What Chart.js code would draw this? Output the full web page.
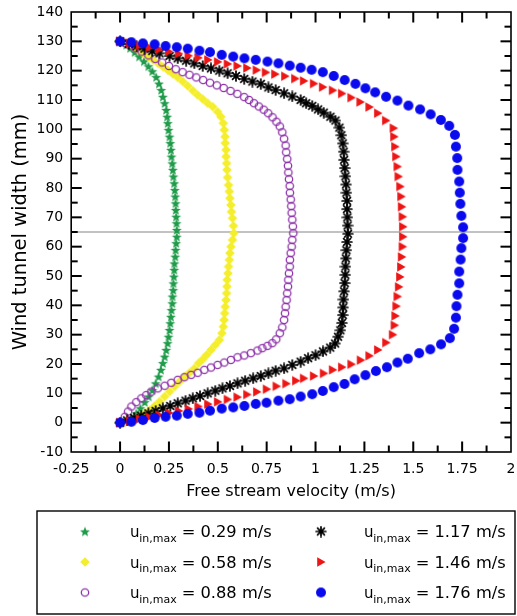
<!DOCTYPE html>
<html>
<head>
<meta charset="utf-8">
<script src="https://cdn.jsdelivr.net/npm/chart.js@4.4.1/dist/chart.umd.min.js"></script>
<style>
html,body{margin:0;padding:0;background:#fff;}
#wrap{width:517px;height:616px;}
</style>
</head>
<body>
<div id="wrap"><canvas id="c" width="517" height="616"></canvas></div>
<script>
// ---- tick labels ----
const xTickLabels = ['-0.25','0','0.25','0.5','0.75','1','1.25','1.5','1.75','2'];
const yTickLabels = ['-10','0','10','20','30','40','50','60','70','80','90','100','110','120','130','140'];

// ---- series names (u_in,max in m/s) ----
const seriesValues = ['0.29','0.58','0.88','1.17','1.46','1.76'];

// ---- centre line (mm) ----
const centreLineY = 65;

// ---- data: [velocity (m/s), width position (mm)] ----
const s029 = [[0,0],[0.03,0.5],[0.058,1.5],[0.083,3.2],[0.104,4.9],[0.126,7.0],[0.146,8.9],[0.165,11.1],[0.182,13.4],[0.197,15.7],[0.209,18.0],[0.219,20.3],[0.228,22.5],[0.236,24.8],[0.243,27.1],[0.248,29.3],[0.253,31.6],[0.257,33.9],[0.26,36.1],[0.263,38.4],[0.267,40.7],[0.268,43.0],[0.272,45.2],[0.273,47.5],[0.275,49.8],[0.277,52.1],[0.278,54.3],[0.282,56.6],[0.284,58.9],[0.287,61.2],[0.29,63.4],[0.29,65.7],[0.289,68.0],[0.287,70.2],[0.285,72.5],[0.284,74.8],[0.282,77.1],[0.28,79.3],[0.277,81.6],[0.273,83.9],[0.27,86.2],[0.267,88.4],[0.263,90.7],[0.26,93.0],[0.257,95.3],[0.253,97.5],[0.248,99.8],[0.244,102.1],[0.241,104.3],[0.236,106.6],[0.228,108.9],[0.219,111.1],[0.211,113.4],[0.199,115.6],[0.185,117.8],[0.165,119.8],[0.145,121.5],[0.122,123.2],[0.098,124.8],[0.075,126.3],[0.052,127.7],[0.032,128.8],[0.015,129.6],[0,130]];

const s058 = [[0,0],[0.025,0.1],[0.05,0.4],[0.075,0.9],[0.1,2.0],[0.126,3.2],[0.151,4.3],[0.177,5.7],[0.202,7.2],[0.228,8.9],[0.253,10.6],[0.279,12.3],[0.304,14.0],[0.329,15.7],[0.355,17.0],[0.38,18.5],[0.402,20.3],[0.423,21.6],[0.443,23.1],[0.465,24.8],[0.487,26.5],[0.508,28.2],[0.521,30.5],[0.528,32.7],[0.532,35.0],[0.535,37.3],[0.538,39.5],[0.542,41.8],[0.545,44.1],[0.547,46.4],[0.548,48.7],[0.552,50.9],[0.555,53.2],[0.559,55.5],[0.562,57.8],[0.567,60.0],[0.575,62.3],[0.582,64.6],[0.58,67.1],[0.575,69.7],[0.57,71.9],[0.567,74.2],[0.562,76.5],[0.559,78.8],[0.555,81.0],[0.55,83.6],[0.547,86.2],[0.545,88.4],[0.542,90.7],[0.542,93.0],[0.538,95.3],[0.537,97.5],[0.533,99.8],[0.528,102.1],[0.516,104.3],[0.499,106.0],[0.474,107.7],[0.448,108.9],[0.423,110.3],[0.397,111.7],[0.372,113.2],[0.346,114.8],[0.321,116.3],[0.295,117.7],[0.27,118.9],[0.245,120.1],[0.22,121.3],[0.195,122.5],[0.17,123.6],[0.145,124.7],[0.12,125.8],[0.095,126.9],[0.07,128.0],[0.045,129.0],[0.022,129.6],[0,130]];

const s088 = [[0,0],[0.024,2.0],[0.041,3.8],[0.058,5.5],[0.083,7.0],[0.109,8.3],[0.134,9.4],[0.16,10.6],[0.193,11.7],[0.228,12.6],[0.262,13.6],[0.295,14.6],[0.329,15.5],[0.364,16.3],[0.397,17.0],[0.431,18.0],[0.465,18.8],[0.499,19.7],[0.533,20.5],[0.567,21.4],[0.601,22.3],[0.635,22.9],[0.669,23.7],[0.703,24.6],[0.728,25.4],[0.754,26.2],[0.779,27.1],[0.799,28.4],[0.817,30.5],[0.83,32.5],[0.839,35.0],[0.844,37.3],[0.847,39.5],[0.852,41.8],[0.855,44.1],[0.859,46.4],[0.861,48.7],[0.864,50.9],[0.868,53.2],[0.869,55.5],[0.873,57.8],[0.878,60.0],[0.881,62.3],[0.886,64.6],[0.884,66.9],[0.881,69.2],[0.878,71.5],[0.876,73.8],[0.873,76.1],[0.869,78.4],[0.868,80.7],[0.864,83.0],[0.861,85.3],[0.859,87.6],[0.855,89.9],[0.85,92.2],[0.847,94.5],[0.839,96.8],[0.83,99.0],[0.817,101.0],[0.8,102.6],[0.78,104.1],[0.758,105.5],[0.735,106.7],[0.71,107.8],[0.685,108.9],[0.66,110.0],[0.635,111.0],[0.6,112.1],[0.565,113.1],[0.53,114.1],[0.495,115.0],[0.46,115.9],[0.425,116.8],[0.39,117.7],[0.355,118.6],[0.32,119.5],[0.285,120.5],[0.25,121.6],[0.215,122.8],[0.18,124.0],[0.145,125.2],[0.11,126.5],[0.08,127.6],[0.05,128.6],[0.025,129.4],[0,130]];

const s117 = [[0,0],[0.036,0.8],[0.072,1.6],[0.108,2.4],[0.145,3.2],[0.182,4.0],[0.219,4.9],[0.257,5.7],[0.295,6.6],[0.335,7.5],[0.372,8.3],[0.409,9.1],[0.448,10.0],[0.487,10.9],[0.524,11.7],[0.562,12.5],[0.601,13.4],[0.64,14.3],[0.681,15.1],[0.72,15.9],[0.759,16.8],[0.796,17.7],[0.839,18.5],[0.881,19.7],[0.924,20.8],[0.962,22.0],[1.0,23.0],[1.038,24.3],[1.075,25.6],[1.1,27.0],[1.115,29.3],[1.127,31.5],[1.135,34.0],[1.139,36.7],[1.141,39.3],[1.143,42.0],[1.146,44.8],[1.149,47.6],[1.152,50.4],[1.153,53.2],[1.155,56.0],[1.158,58.8],[1.161,61.6],[1.166,64.4],[1.164,67.2],[1.163,70.0],[1.161,72.8],[1.161,75.6],[1.158,78.4],[1.156,81.2],[1.153,84.0],[1.149,86.8],[1.146,89.6],[1.144,92.4],[1.139,95.2],[1.132,98.0],[1.122,100.6],[1.102,103.0],[1.076,104.3],[1.042,105.7],[1.013,106.8],[0.983,108.0],[0.952,108.9],[0.924,110.0],[0.881,111.2],[0.839,112.3],[0.796,113.4],[0.759,114.3],[0.72,115.5],[0.677,116.3],[0.635,117.2],[0.593,118.2],[0.55,119.1],[0.508,120.0],[0.465,120.8],[0.423,121.6],[0.38,122.5],[0.338,123.4],[0.295,124.2],[0.253,125.0],[0.202,125.9],[0.165,126.7],[0.125,127.5],[0.085,128.3],[0.045,129.1],[0,130]];

const s146 = [[0,0],[0.05,0.6],[0.1,1.3],[0.15,1.9],[0.2,2.6],[0.25,3.3],[0.3,4.0],[0.35,4.7],[0.4,5.5],[0.45,6.3],[0.5,7.1],[0.55,7.9],[0.6,8.7],[0.65,9.6],[0.7,10.5],[0.75,11.4],[0.8,12.4],[0.85,13.3],[0.9,14.3],[0.94,15.1],[0.991,15.9],[1.042,16.8],[1.088,18.0],[1.135,18.9],[1.183,19.9],[1.231,21.3],[1.275,22.8],[1.319,24.8],[1.361,27.3],[1.395,30.0],[1.404,33.2],[1.408,36.4],[1.413,39.7],[1.419,43.0],[1.426,46.3],[1.432,49.7],[1.437,53.1],[1.441,56.5],[1.445,60.0],[1.447,63.4],[1.447,66.8],[1.445,70.2],[1.441,73.6],[1.438,77.1],[1.433,80.5],[1.424,83.9],[1.419,87.3],[1.412,90.7],[1.407,94.1],[1.402,97.5],[1.399,100.4],[1.36,103.0],[1.319,105.5],[1.275,107.6],[1.229,109.3],[1.183,110.8],[1.135,112.2],[1.088,113.3],[1.037,114.4],[0.991,115.6],[0.94,116.5],[0.895,117.3],[0.844,118.1],[0.793,118.8],[0.745,119.4],[0.698,120.2],[0.65,120.9],[0.6,121.6],[0.55,122.3],[0.5,123.0],[0.45,123.7],[0.4,124.4],[0.35,125.1],[0.3,125.8],[0.25,126.5],[0.2,127.2],[0.15,127.9],[0.1,128.6],[0.05,129.3],[0,130]];

const s176 = [[0,0],[0.058,0.3],[0.117,0.9],[0.177,1.6],[0.233,2.0],[0.29,2.4],[0.346,3.0],[0.406,3.4],[0.46,4.1],[0.52,4.8],[0.579,5.2],[0.636,5.7],[0.694,6.4],[0.749,6.8],[0.81,7.5],[0.868,8.0],[0.924,8.9],[0.983,9.7],[1.037,10.8],[1.093,12.1],[1.148,13.2],[1.2,14.8],[1.255,16.2],[1.309,17.6],[1.365,18.9],[1.419,20.5],[1.472,21.8],[1.53,23.7],[1.587,25.0],[1.642,26.7],[1.687,28.8],[1.709,32.0],[1.718,35.8],[1.721,39.7],[1.726,43.6],[1.735,47.5],[1.735,51.5],[1.742,55.6],[1.746,59.5],[1.755,62.9],[1.755,66.6],[1.746,70.5],[1.741,74.6],[1.738,78.4],[1.735,82.2],[1.726,86.2],[1.725,90.2],[1.718,94.1],[1.713,98.1],[1.684,101.2],[1.641,103.2],[1.589,105.1],[1.535,106.8],[1.475,108.1],[1.419,109.8],[1.361,111.1],[1.305,112.6],[1.255,114.0],[1.204,115.5],[1.149,116.8],[1.093,118.2],[1.037,119.5],[0.98,120.3],[0.924,121.0],[0.868,121.7],[0.81,122.5],[0.754,123.1],[0.694,123.7],[0.636,124.2],[0.579,124.8],[0.52,125.4],[0.46,126.3],[0.406,126.8],[0.346,127.5],[0.29,128.0],[0.233,128.4],[0.177,129.0],[0.117,129.3],[0.058,129.7],[0,130]];

const seriesData = [s029, s058, s088, s117, s146, s176];
const seriesColors = ['#1f9b4a', '#f4ee2c', '#8e35aa', '#000000', '#ee1515', '#0a0aee'];
const seriesShapes = ['star', 'diamond', 'ring', 'asterisk', 'triangleRight', 'disc'];

// ---- marker images ----
function makeMarker(shape, color) {
  const c = document.createElement('canvas');
  c.width = 12; c.height = 12;
  const g = c.getContext('2d');
  const cx = 6, cy = 6;
  g.fillStyle = color; g.strokeStyle = color;
  g.beginPath();
  if (shape === 'star') {
    for (let i = 0; i < 10; i++) {
      const a = -Math.PI / 2 + i * Math.PI / 5;
      const r = i % 2 ? 2.3 : 5.2;
      const px = cx + r * Math.cos(a), py = cy + 0.5 + r * Math.sin(a);
      i ? g.lineTo(px, py) : g.moveTo(px, py);
    }
    g.closePath(); g.fill();
  } else if (shape === 'diamond') {
    g.moveTo(cx, cy - 4.8); g.lineTo(cx + 4.8, cy); g.lineTo(cx, cy + 4.8); g.lineTo(cx - 4.8, cy);
    g.closePath(); g.fill();
  } else if (shape === 'ring') {
    g.lineWidth = 1.3;
    g.arc(cx, cy, 3.7, 0, Math.PI * 2); g.stroke();
  } else if (shape === 'asterisk') {
    g.lineWidth = 1.7; g.lineCap = 'round';
    for (let i = 0; i < 4; i++) {
      const a = i * Math.PI / 4;
      g.moveTo(cx - 4.9 * Math.cos(a), cy - 4.9 * Math.sin(a));
      g.lineTo(cx + 4.9 * Math.cos(a), cy + 4.9 * Math.sin(a));
    }
    g.stroke();
    g.beginPath(); g.arc(cx, cy, 2.0, 0, Math.PI * 2); g.fill();
  } else if (shape === 'triangleRight') {
    g.moveTo(cx + 4.6, cy); g.lineTo(cx - 3.8, cy - 4.8); g.lineTo(cx - 3.8, cy + 4.8);
    g.closePath(); g.fill();
  } else {
    g.arc(cx, cy, 5.0, 0, Math.PI * 2); g.fill();
  }
  return c;
}
const markers = seriesShapes.map((s, i) => makeMarker(s, seriesColors[i]));

// ---- datasets ----
const datasets = [];
// draw order: first dataset ends up on top
[5, 4, 3, 2, 1, 0].forEach(i => {
  datasets.push({
    label: 'u_in,max = ' + seriesValues[i] + ' m/s',
    data: seriesData[i].map(p => ({x: p[0], y: p[1]})),
    pointStyle: markers[i],
    pointRadius: 5,
    showLine: false
  });
});
datasets.push({
  label: 'centre',
  data: [{x: -0.25, y: centreLineY}, {x: 2, y: centreLineY}],
  showLine: true,
  borderColor: '#858585',
  borderWidth: 1.2,
  pointRadius: 0
});

// ---- frame + inward ticks ----
const framePlugin = {
  id: 'frame',
  afterDraw(chart) {
    const ctx = chart.ctx;
    const a = chart.chartArea;
    const xs = chart.scales.x, ys = chart.scales.y;
    ctx.save();
    ctx.fillStyle = '#000';
    const tw = 2;
    for (let k = 1; k < 18; k++) {
      const px = xs.getPixelForValue(-0.25 + k * 0.125);
      const len = (k % 2 === 0) ? 10.5 : 6.5;
      ctx.fillRect(px - tw / 2, a.bottom - len, tw, len);
      ctx.fillRect(px - tw / 2, a.top, tw, len);
    }
    for (let k = 1; k < 30; k++) {
      const py = ys.getPixelForValue(-10 + k * 5);
      const len = (k % 2 === 0) ? 10.5 : 6.5;
      ctx.fillRect(a.left, py - tw / 2, len, tw);
      ctx.fillRect(a.right - len, py - tw / 2, len, tw);
    }
    ctx.strokeStyle = '#000';
    ctx.lineWidth = 1.6;
    ctx.strokeRect(a.left, a.top, a.right - a.left, a.bottom - a.top);
    ctx.restore();
  }
};

// ---- boxed legend with subscripts ----
const legendPlugin = {
  id: 'boxLegend',
  afterDraw(chart) {
    const ctx = chart.ctx;
    ctx.save();
    ctx.strokeStyle = '#000';
    ctx.lineWidth = 1.4;
    ctx.strokeRect(37, 511, 478, 103);
    const cols = [{mx: 85, tx: 130}, {mx: 321, tx: 364}];
    const rows = [531.5, 562, 592.5];
    seriesValues.forEach((val, i) => {
      const c = cols[Math.floor(i / 3)], ry = rows[i % 3];
      const img = markers[i];
      ctx.drawImage(img, c.mx - img.width / 2, ry - img.height / 2);
      ctx.fillStyle = '#000';
      ctx.textAlign = 'left';
      ctx.textBaseline = 'alphabetic';
      const base = ry + 5.5;
      ctx.font = '15px "DejaVu Sans"';
      ctx.fillText('u', c.tx, base);
      ctx.font = '11px "DejaVu Sans"';
      ctx.fillText('in,max', c.tx + 9.3, base + 4.5);
      ctx.font = '15px "DejaVu Sans"';
      const rest = '= ' + val + ' m/s';
      const tw = ctx.measureText(rest).width;
      ctx.save();
      ctx.translate(c.tx + 51.7, base);
      ctx.scale(90 / tw, 1);
      ctx.fillText(rest, 0, 0);
      ctx.restore();
    });
    ctx.restore();
  }
};

const xTickValues = xTickLabels.map(Number);
const yTickValues = yTickLabels.map(Number);

new Chart(document.getElementById('c'), {
  type: 'scatter',
  data: {datasets},
  plugins: [framePlugin, legendPlugin],
  options: {
    responsive: false,
    devicePixelRatio: 1,
    animation: false,
    layout: {padding: {left: 0, right: 3, top: 12, bottom: 106}},
    plugins: {legend: {display: false}, tooltip: {enabled: false}},
    scales: {
      x: {
        type: 'linear', min: -0.25, max: 2,
        afterBuildTicks: s => { s.ticks = xTickValues.map(v => ({value: v})); },
        afterFit: s => { s.height = 58; s.paddingLeft = 0; s.paddingRight = 0; },
        grid: {display: false, drawTicks: false},
        border: {display: false},
        ticks: {
          callback: (v, i) => xTickLabels[i],
          font: {family: 'DejaVu Sans', size: 14},
          color: '#000', padding: 9, maxRotation: 0, autoSkip: false
        },
        title: {
          display: true, text: 'Free stream velocity (m/s)',
          font: {family: 'DejaVu Sans', size: 16}, color: '#000',
          padding: {top: 0, bottom: 9}
        }
      },
      y: {
        type: 'linear', min: -10, max: 140,
        afterBuildTicks: s => { s.ticks = yTickValues.map(v => ({value: v})); },
        afterFit: s => { s.width = 71.2; s.paddingTop = 0; s.paddingBottom = 0; },
        grid: {display: false, drawTicks: false},
        border: {display: false},
        ticks: {
          callback: (v, i) => yTickLabels[i],
          font: {family: 'DejaVu Sans', size: 14},
          color: '#000', padding: 8, autoSkip: false
        },
        title: {
          display: true, text: 'Wind tunnel width (mm)',
          font: {family: 'DejaVu Sans', size: 19.5}, color: '#000',
          padding: {top: 9, bottom: 0}
        }
      }
    }
  }
});
</script>
</body>
</html>
